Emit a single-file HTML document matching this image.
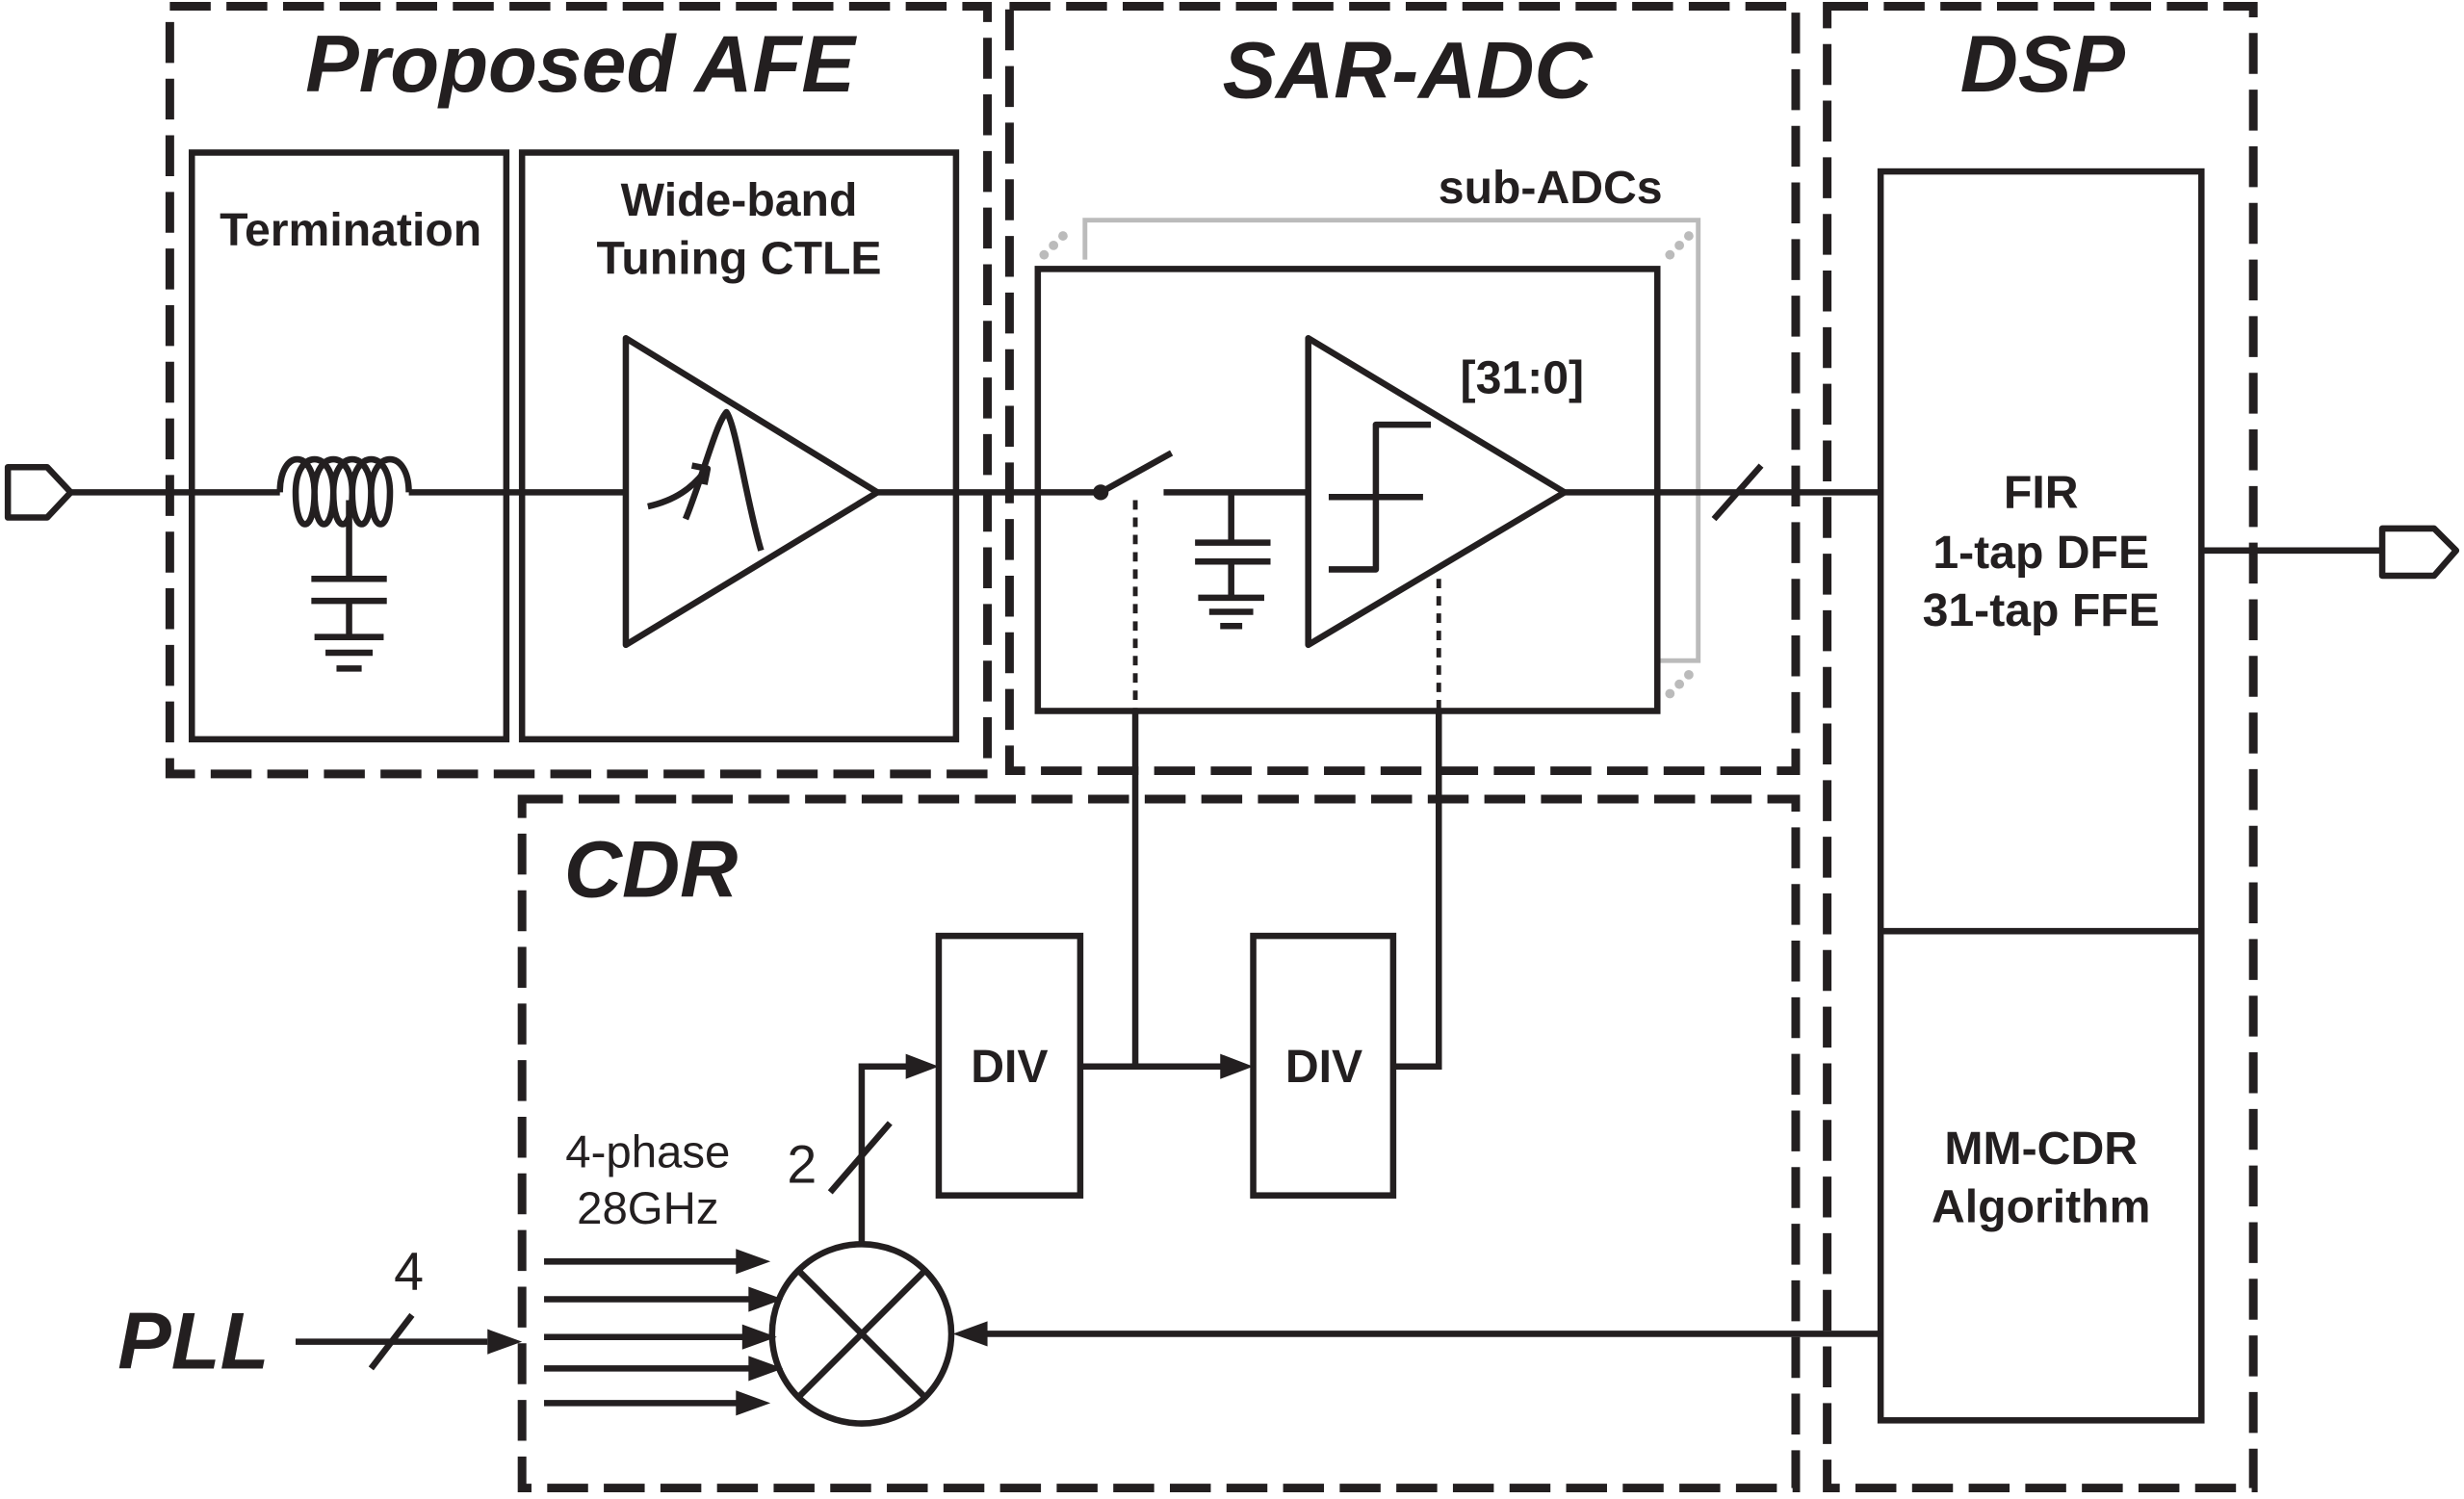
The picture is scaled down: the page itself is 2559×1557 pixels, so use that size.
<!DOCTYPE html>
<html><head><meta charset="utf-8"><style>
html,body{margin:0;padding:0;background:#fff;}
svg{display:block;}
text{font-family:"Liberation Sans",Arial,sans-serif;fill:#231f20;}
</style></head><body>
<svg width="2559" height="1557" viewBox="0 0 1567 953" preserveAspectRatio="none" xmlns="http://www.w3.org/2000/svg">
<g fill="none" stroke="#231f20" stroke-width="5.5" stroke-dasharray="26 10">
<rect x="108" y="4" width="520" height="488"/>
<rect x="642" y="4" width="500" height="486"/>
<rect x="1162" y="4" width="271" height="942"/>
<rect x="332" y="508" width="810" height="438"/>
</g>
<g fill="none" stroke="#231f20" stroke-width="4">
<rect x="122" y="97" width="200" height="373"/>
<rect x="332" y="97" width="276" height="373"/>
<rect x="1196" y="109" width="204" height="794"/>
<line x1="1196" y1="592" x2="1400" y2="592"/>
</g>
<g fill="none" stroke="#bbb" stroke-width="3">
<polyline points="690,165 690,140 1080,140 1080,420 1054,420"/>
</g>
<g fill="#bbb"><circle cx="664" cy="162" r="3"/><circle cx="670" cy="156" r="3"/><circle cx="676" cy="150" r="3"/>
<circle cx="1062" cy="162" r="3"/><circle cx="1068" cy="156" r="3"/><circle cx="1074" cy="150" r="3"/>
<circle cx="1062" cy="441" r="3"/><circle cx="1068" cy="435" r="3"/><circle cx="1074" cy="429" r="3"/></g>
<rect x="660" y="171" width="394" height="281" fill="#fff" stroke="#231f20" stroke-width="4"/>
<g fill="none" stroke="#231f20" stroke-width="4" stroke-linejoin="round">
<polygon points="5,297 30,297 45,313 30,329 5,329"/>
<line x1="45" y1="313" x2="178" y2="313"/>
<path d="M178,313 C178,285 200,285 200,313 C200,340 188,340 188,313 C188,285 212,285 212,313 C212,340 200,340 200,313 C200,285 224,285 224,313 C224,340 212,340 212,313 C212,285 236,285 236,313 C236,340 224,340 224,313 C224,285 248,285 248,313 C248,340 236,340 236,313 C236,285 260,285 260,313"/>
<line x1="260" y1="313" x2="398" y2="313"/>
<line x1="222" y1="318" x2="222" y2="368"/>
<line x1="198" y1="368" x2="246" y2="368"/><line x1="198" y1="382" x2="246" y2="382"/>
<line x1="222" y1="382" x2="222" y2="405"/>
<line x1="200" y1="405" x2="244" y2="405"/><line x1="207" y1="415" x2="237" y2="415"/><line x1="214" y1="425" x2="230" y2="425"/>
<polygon points="398,215 398,410 558,313"/>
<path d="M412,322 C430,318 440,310 448,300"/>
<path d="M440,296 L450,298 L448,308"/>
<path d="M436,330 C448,300 455,270 462,262 C468,270 475,320 484,350"/>
<line x1="558" y1="313" x2="700" y2="313"/>
<line x1="700" y1="313" x2="745" y2="288"/>
<line x1="740" y1="313" x2="832" y2="313"/>
<line x1="783" y1="313" x2="783" y2="345"/>
<line x1="760" y1="345" x2="808" y2="345"/><line x1="760" y1="357" x2="808" y2="357"/>
<line x1="783" y1="357" x2="783" y2="380"/>
<line x1="762" y1="380" x2="804" y2="380"/><line x1="769" y1="389" x2="797" y2="389"/><line x1="776" y1="398" x2="790" y2="398"/>
<polygon points="832,215 832,410 995,313"/>
<polyline points="845,362 875,362 875,270 910,270"/>
<line x1="845" y1="316" x2="905" y2="316"/>
<line x1="995" y1="313" x2="1196" y2="313"/>
<line x1="1090" y1="330" x2="1120" y2="296"/>
<line x1="1400" y1="350" x2="1515" y2="350"/>
<polygon points="1515,336 1548,336 1562,350 1548,366 1515,366"/>
</g>
<circle cx="700" cy="313" r="5" fill="#231f20"/>
<g stroke="#231f20" stroke-width="3" stroke-dasharray="6 5">
<line x1="722" y1="318" x2="722" y2="452"/><line x1="915" y1="368" x2="915" y2="452"/>
</g>
<g fill="none" stroke="#231f20" stroke-width="4">
<line x1="722" y1="452" x2="722" y2="678"/>
<polyline points="915,452 915,678 886,678"/>
<rect x="597" y="595" width="90" height="165"/>
<rect x="797" y="595" width="89" height="165"/>
<line x1="687" y1="678" x2="778" y2="678"/>
<polyline points="548,791 548,678 578,678"/>
<line x1="528" y1="758" x2="566" y2="714"/>
<circle cx="548" cy="848" r="57"/>
<line x1="508" y1="808" x2="588" y2="888"/><line x1="588" y1="808" x2="508" y2="888"/>
<line x1="1196" y1="848" x2="625" y2="848"/>
<line x1="188" y1="853" x2="310" y2="853"/>
<line x1="236" y1="870" x2="262" y2="836"/>
<line x1="346" y1="802" x2="470" y2="802"/>
<line x1="346" y1="826" x2="480" y2="826"/>
<line x1="346" y1="850" x2="475" y2="850"/>
<line x1="346" y1="870" x2="480" y2="870"/>
<line x1="346" y1="892" x2="470" y2="892"/>
</g>
<g fill="#231f20">
<polygon points="597,678 576,670 576,686"/>
<polygon points="797,678 776,670 776,686"/>
<polygon points="606,848 628,840 628,856"/>
<polygon points="332,853 310,845 310,861"/>
<polygon points="490,802 468,794 468,810"/>
<polygon points="498,826 476,818 476,834"/>
<polygon points="494,850 472,842 472,858"/>
<polygon points="498,870 476,862 476,878"/>
<polygon points="490,892 468,884 468,900"/>
</g>
<g font-weight="bold" font-style="italic" font-size="51" text-anchor="middle">
<text x="369" y="58">Proposed AFE</text>
<text x="895" y="62">SAR-ADC</text>
<text x="1299" y="58">DSP</text>
<text x="414" y="570">CDR</text>
<text x="123" y="870">PLL</text>
</g>
<g font-weight="bold" font-size="29.5" text-anchor="middle">
<text x="223" y="156">Termination</text>
<text x="470" y="137">Wide-band</text>
<text x="470" y="174">Tuning CTLE</text>
<text x="986" y="129">sub-ADCs</text>
<text x="968" y="250">[31:0]</text>
<text x="1298" y="323">FIR</text>
<text x="1298" y="361">1-tap DFE</text>
<text x="1298" y="398">31-tap FFE</text>
<text x="1298" y="740">MM-CDR</text>
<text x="1298" y="777">Algorithm</text>
<text x="642" y="688">DIV</text>
<text x="842" y="688">DIV</text>
</g>
<g font-size="29" text-anchor="middle">
<text x="412" y="742">4-phase</text>
<text x="412" y="778">28GHz</text>
<text x="510" y="752" font-size="34">2</text>
<text x="260" y="820" font-size="34">4</text>
</g>
</svg>
</body></html>
